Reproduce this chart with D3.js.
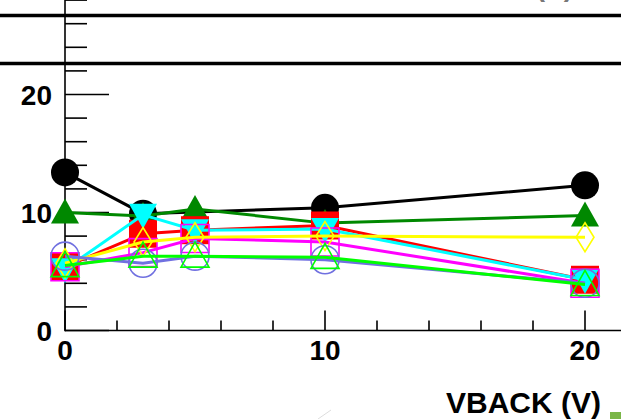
<!DOCTYPE html>
<meta charset="utf-8">
<style>
    body { margin: 0; background: #fff; }
    text { font-family: "Liberation Sans", Arial, sans-serif; font-weight: bold; fill: #000; }
</style>
<body>
<svg width="621" height="419"></svg>
<script src="https://d3js.org/d3.v7.min.js"></script>
<script>
    // data
    const vback = [0, 3, 5, 10, 20];
    const blackVals = [13.4, 9.9, null, 10.4, 12.3];
    const greenVals = [10.0, 9.7, 10.3, 9.1, 9.75];
    const redVals = [5.4, 8.2, 8.5, 8.9, 4.3];
    const cyanVals = [5.2, 9.8, 8.5, 8.6, 4.3];
    const magentaVals = [5.4, 6.6, 7.8, 7.5, 4.0];
    const yellowVals = [5.7, 7.5, 7.9, 8.0, 7.9];
    const blueVals = [6.3, 5.7, 6.3, 6.0, 4.0];
    const limeVals = [5.5, 6.3, 6.3, 6.2, 3.9];
    const xTickLabels = ["0", "10", "20"];
    const yTickLabels = ["0", "10", "20"];
    const xTitle = "VBACK (V)";

    const width = 621,
        height = 419;

    const svg = d3.select("svg");

    const x = d3.scaleLinear().domain([0, 20]).range([65, 585]);
    const y = d3.scaleLinear().domain([0, 20]).range([330.5, 94.5]);

    // top boxes (cut off pave)
    svg.append("text")
        .attr("x", 573).attr("y", -4)
        .attr("text-anchor", "end")
        .style("font-size", "28px")
        .style("fill", "#777")
        .text("(V)");
    [15.5, 63.5].forEach(yy => {
        svg.append("line")
            .attr("x1", 0).attr("x2", width)
            .attr("y1", yy).attr("y2", yy)
            .attr("stroke", "#000").attr("stroke-width", 3.5);
    });

    // axes
    const axisG = svg.append("g").attr("stroke", "#000").attr("stroke-width", 1.6);
    axisG.append("line")
        .attr("x1", x(0)).attr("x2", x(0))
        .attr("y1", 0).attr("y2", y(0) + 0.8);
    axisG.append("line")
        .attr("x1", x(0)).attr("x2", width)
        .attr("y1", y(0)).attr("y2", y(0));

    d3.range(0, 29, 2).forEach(v => {
        const major = v % 10 === 0;
        axisG.append("line")
            .attr("x1", x(0)).attr("x2", x(0) + (major ? 44 : 22))
            .attr("y1", y(v)).attr("y2", y(v));
    });
    d3.range(0, 22, 2).forEach(v => {
        const major = v % 10 === 0;
        axisG.append("line")
            .attr("x1", x(v)).attr("x2", x(v))
            .attr("y1", y(0)).attr("y2", y(0) - (major ? 20 : 10));
    });

    yTickLabels.forEach(t => {
        svg.append("text")
            .attr("x", 52).attr("y", y(+t))
            .attr("dy", "0.36em")
            .attr("text-anchor", "end")
            .style("font-size", "28px")
            .text(t);
    });
    xTickLabels.forEach(t => {
        svg.append("text")
            .attr("x", x(+t)).attr("y", 360)
            .attr("text-anchor", "middle")
            .style("font-size", "28px")
            .text(t);
    });
    svg.append("text")
        .attr("x", 601).attr("y", 413)
        .attr("text-anchor", "end")
        .style("font-size", "30px")
        .text(xTitle);

    // marker shapes
    const shapes = {
        circle: "M-14,0A14,14 0 1,0 14,0A14,14 0 1,0 -14,0Z",
        square: "M-14,-14H14V14H-14Z",
        triUp: "M0,-14L14,11H-14Z",
        triDown: "M0,14L14,-11H-14Z",
        diamond: "M0,-14.5L9,0L0,14.5L-9,0Z"
    };

    const series = [
        { vals: blackVals, color: "#000000", shape: "circle", filled: true },
        { vals: greenVals, color: "#008800", shape: "triUp", filled: true },
        { vals: redVals, color: "#ff0000", shape: "square", filled: true },
        { vals: cyanVals, color: "#00ffff", shape: "triDown", filled: true },
        { vals: magentaVals, color: "#ff00ff", shape: "square", filled: false },
        { vals: yellowVals, color: "#ffff00", shape: "diamond", filled: false },
        { vals: blueVals, color: "#7070e0", shape: "circle", filled: false },
        { vals: limeVals, color: "#00ff00", shape: "triUp", filled: false }
    ];

    const line = d3.line()
        .x(d => x(d[0]))
        .y(d => y(d[1]));

    series.forEach(s => {
        const pts = vback.map((v, i) => [v, s.vals[i]]).filter(d => d[1] != null);
        const g = svg.append("g");
        g.append("path")
            .attr("d", line(pts))
            .attr("fill", "none")
            .attr("stroke", s.color)
            .attr("stroke-width", 3);
        g.selectAll("path.mk")
            .data(pts)
            .enter().append("path")
            .attr("class", "mk")
            .attr("transform", d => "translate(" + x(d[0]) + "," + y(d[1]) + ")")
            .attr("d", shapes[s.shape])
            .attr("fill", s.filled ? s.color : "none")
            .attr("stroke", s.filled ? "none" : s.color)
            .attr("stroke-width", 1.6);
    });

    // bits at the bottom edge
    svg.append("line")
        .attr("x1", 318).attr("y1", 419).attr("x2", 331).attr("y2", 410)
        .attr("stroke", "#ddd").attr("stroke-width", 1);
    svg.append("rect")
        .attr("x", 610).attr("y", 412).attr("width", 11).attr("height", 7)
        .attr("fill", "#7ab648");
</script>
</body>
